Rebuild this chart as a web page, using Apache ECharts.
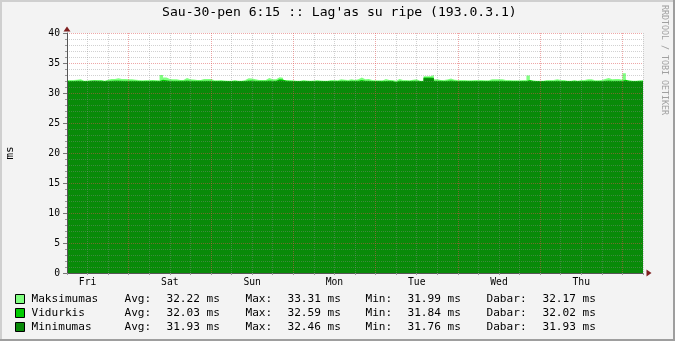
<!DOCTYPE html>
<html><head><meta charset="utf-8">
<script src="https://cdn.jsdelivr.net/npm/echarts@6/dist/echarts.min.js"></script>
<style>html,body{margin:0;padding:0;background:#F3F3F3}#c{width:675px;height:341px}</style>
</head><body><div id="c"></div>
<script>
const titleText = "Sau-30-pen 6:15 :: Lag'as su ripe (193.0.3.1)";
const unitName = 'ms';
const watermark = 'RRDTOOL / TOBI OETIKER';
// hours from start (Fri ~06:00) ; day labels at noon
const dayLabels = ['Fri', 'Sat', 'Sun', 'Mon', 'Tue', 'Wed', 'Thu'];
const seriesNames = ['Maksimumas', 'Vidurkis', 'Minimumas'];

// hourly samples h0..h168
const maxVals = [
  32.17,32.17,32.2,32.28,32.06,32.1,32.11,32.12,32.17,32.17,32.06,32.2,32.33,32.33,32.45,32.33,32.33,32.3,32.28,32.2,32.17,32.11,32.15,32.17,
  32.17,32.17,32.11,33.0,32.6,32.33,32.3,32.28,32.17,32.17,32.5,32.28,32.25,32.17,32.17,32.33,32.33,32.33,32.11,32.11,32.17,32.1,32.06,32.06,
  32.17,32.06,32.06,32.17,32.45,32.4,32.28,32.17,32.17,32.17,32.5,32.28,32.28,32.61,32.55,32.17,32.17,32.11,32.06,32.06,32.17,32.1,32.06,32.1,
  32.17,32.1,32.06,32.06,32.17,32.17,32.11,32.28,32.2,32.17,32.28,32.17,32.3,32.6,32.28,32.33,32.17,32.11,32.11,32.06,32.33,32.17,32.17,32.06,
  32.33,32.17,32.17,32.11,32.2,32.28,32.06,32.06,32.78,32.8,33.0,32.28,32.17,32.17,32.25,32.4,32.2,32.17,32.17,32.17,32.11,32.11,32.15,32.17,
  32.17,32.11,32.11,32.28,32.28,32.28,32.28,32.17,32.17,32.11,32.11,32.11,32.17,32.17,32.9,32.11,32.06,32.06,32.06,32.17,32.17,32.17,32.28,32.17,
  32.17,32.06,32.06,32.17,32.06,32.17,32.17,32.28,32.28,32.11,32.11,32.17,32.33,32.5,32.28,32.33,32.33,32.2,33.31,32.17,32.06,32.06,32.11,32.17,32.17
];
const avgVals = [
  32.02,32.02,32.04,32.06,32.0,32.01,32.03,32.1,32.04,32.03,32.0,32.03,32.06,32.07,32.1,32.06,32.05,32.04,32.04,32.03,32.02,32.01,32.02,32.02,
  32.03,32.02,32.0,32.2,32.12,32.06,32.05,32.05,32.03,32.03,32.08,32.05,32.04,32.03,32.03,32.05,32.05,32.05,32.01,32.0,32.02,32.01,32.0,32.0,
  32.02,32.0,32.0,32.02,32.08,32.07,32.05,32.03,32.03,32.03,32.08,32.05,32.05,32.3,32.25,32.03,32.02,32.01,31.99,31.99,32.02,32.0,31.99,32.0,
  32.02,32.0,31.99,31.99,32.02,32.02,32.01,32.05,32.03,32.02,32.05,32.03,32.04,32.15,32.05,32.06,32.02,32.01,32.01,32.04,32.0,32.03,32.02,31.84,
  32.05,32.02,32.02,32.01,32.03,32.05,31.99,31.99,32.59,32.57,32.55,32.05,32.03,32.02,32.04,32.08,32.03,32.02,32.02,32.02,32.01,32.01,32.02,32.02,
  32.02,32.01,32.01,32.05,32.05,32.05,32.05,32.02,32.02,32.01,32.01,32.01,32.02,32.02,32.15,32.01,31.99,31.99,31.99,32.02,32.02,32.02,32.05,32.02,
  32.02,31.99,31.99,32.02,31.99,32.02,32.02,32.05,32.05,32.01,32.01,32.02,32.06,32.1,32.05,32.06,32.06,32.03,32.2,32.02,31.99,31.99,32.01,32.02,32.02
];
const minVals = [
  31.93,31.92,31.94,31.93,31.91,31.92,31.95,32.02,31.96,31.93,31.92,31.93,31.94,31.95,31.96,31.94,31.93,31.92,31.93,31.92,31.91,31.92,31.93,31.92,
  31.93,31.92,31.91,31.98,31.95,31.94,31.93,31.93,31.92,31.92,31.94,31.93,31.92,31.92,31.93,31.93,31.94,31.93,31.92,31.91,31.92,31.92,31.9,31.91,
  31.92,31.91,31.9,31.92,31.95,31.94,31.93,31.92,31.92,31.92,31.94,31.93,31.94,32.1,32.05,31.93,31.92,31.91,31.9,31.9,31.92,31.91,31.9,31.91,
  31.92,31.91,31.9,31.9,31.92,31.92,31.91,31.93,31.93,31.92,31.94,31.93,31.93,31.96,31.94,31.94,31.92,31.91,31.91,31.82,31.9,31.92,31.91,31.76,
  31.93,31.92,31.92,31.91,31.92,31.93,31.9,31.9,32.44,32.46,32.45,31.95,31.93,31.92,31.93,31.95,31.93,31.92,31.92,31.92,31.91,31.91,31.92,31.92,
  31.92,31.91,31.91,31.93,31.93,31.93,31.93,31.92,31.92,31.91,31.91,31.91,31.92,31.92,31.98,31.91,31.9,31.9,31.9,31.92,31.92,31.92,31.93,31.92,
  31.92,31.9,31.9,31.92,31.9,31.92,31.92,31.93,31.93,31.91,31.91,31.92,31.94,31.95,31.93,31.94,31.94,31.92,32.0,31.92,31.9,31.9,31.91,31.93,31.93
];

// legend statistics
const statAvg = [32.22, 32.03, 31.93];
const statMax = [33.31, 32.59, 32.46];
const statMin = [31.99, 31.84, 31.76];
const statCur = [32.17, 32.02, 31.93];

const colors = ['#80FF80', '#00CC00', '#098A09'];
const mono = '"DejaVu Sans Mono", monospace';
const minorC = 'rgba(140,140,140,0.4)';
const majorC = 'rgba(222,79,79,0.5)';
const seriesData = [maxVals, avgVals, minVals];

const chart = echarts.init(document.getElementById('c'), null, {renderer: 'canvas'});

const fmt = v => v.toFixed(2) + ' ms';

const option = {
  backgroundColor: '#F3F3F3',
  animation: false,
  title: {
    text: titleText, left: 162, top: 6, padding: 0,
    textStyle: {fontFamily: mono, fontSize: 13.1, fontWeight: 'normal', color: '#000'}
  },
  grid: {left: 67, right: 32, top: 33, bottom: 68, show: true, backgroundColor: '#FFFFFF', borderWidth: 0,
         containLabel: false, outerBoundsMode: 'none'},
  xAxis: [
    {
      type: 'value', min: 0, max: 168, interval: 6, z: 5, position: 'bottom',
      axisLine: {show: true, onZero: false, lineStyle: {color: '#555', width: 1}},
      axisTick: {show: true, length: 2, lineStyle: {color: '#999'}},
      axisLabel: {
        show: true, margin: 4, fontFamily: mono, fontSize: 9.7, color: '#000',
        formatter: v => ((v - 6) % 24 === 0 ? dayLabels[(v - 6) / 24] : '')
      },
      splitLine: {show: true, lineStyle: {color: [minorC, minorC, minorC, majorC], type: [1, 1], width: 1}}
    },
    {
      type: 'value', min: 0, max: 168, z: 6, position: 'bottom',
      axisLine: {show: true, onZero: false, symbol: ['none', 'triangle'], symbolSize: [7, 5], symbolOffset: [0, 6],
                 lineStyle: {color: '#7F1F1F', width: 0}},
      axisTick: {show: false}, axisLabel: {show: false}, splitLine: {show: false}
    }
  ],
  yAxis: [
    {
      type: 'value', min: 0, max: 40, interval: 1, z: 5, position: 'left',
      axisLine: {show: true, onZero: false, lineStyle: {color: '#555', width: 1}},
      axisTick: {show: true, length: 2, lineStyle: {color: '#999'}},
      axisLabel: {show: false},
      splitLine: {show: true, lineStyle: {color: [majorC, minorC, minorC, minorC, minorC], type: [1, 1], width: 1}},
      name: unitName, nameLocation: 'middle', nameRotate: 90, nameGap: 51,
      nameTextStyle: {fontFamily: mono, fontSize: 11, color: '#000'}
    },
    {
      type: 'value', min: 0, max: 40, interval: 5, z: 5, position: 'left',
      axisLine: {show: false},
      axisTick: {show: true, length: 4, lineStyle: {color: '#777'}},
      axisLabel: {show: true, margin: 7, fontFamily: mono, fontSize: 9.7, color: '#000'},
      splitLine: {show: false}
    },
    {
      type: 'value', min: 0, max: 40, z: 6, position: 'left',
      axisLine: {show: true, onZero: false, symbol: ['none', 'triangle'], symbolSize: [7, 5], symbolOffset: [0, 4],
                 lineStyle: {color: '#7F1F1F', width: 0}},
      axisTick: {show: false}, axisLabel: {show: false}, splitLine: {show: false}
    }
  ],
  legend: {
    orient: 'vertical', left: 15, top: 292, padding: 0, itemWidth: 9, itemHeight: 9, itemGap: 0,
    height: 48, icon: 'rect', selectedMode: false, data: seriesNames,
    itemStyle: {borderColor: '#000', borderWidth: 1},
    textStyle: {
      fontFamily: mono, fontSize: 11.1, color: '#000', lineHeight: 14,
      rich: {
        n: {fontFamily: mono, fontSize: 11.1, width: 93, padding: [0, 0, 0, 2]},
        a: {fontFamily: mono, fontSize: 11.1, width: 42},
        v: {fontFamily: mono, fontSize: 11.1, width: 79},
        w: {fontFamily: mono, fontSize: 11.1, width: 78},
        d: {fontFamily: mono, fontSize: 11.1, width: 56},
        e: {fontFamily: mono, fontSize: 11.1}
      }
    },
    formatter: name => {
      const i = seriesNames.indexOf(name);
      return '{n|' + name + '}{a|Avg:}{v|' + fmt(statAvg[i]) + '}{a|Max:}{w|' + fmt(statMax[i]) +
             '}{a|Min:}{v|' + fmt(statMin[i]) + '}{d|Dabar:}{e|' + fmt(statCur[i]) + '}';
    }
  },
  series: seriesNames.map((name, i) => ({
    name: name, type: 'line', step: 'end', xAxisIndex: 0, yAxisIndex: 0,
    data: seriesData[i].map((v, k) => [k, v]),
    symbol: 'none', silent: true, z: 2,
    lineStyle: {width: 0, color: colors[i]},
    itemStyle: {color: colors[i]},
    areaStyle: {color: colors[i], opacity: 1},
    emphasis: {disabled: true}
  })),
  graphic: [
    {type: 'rect', silent: true, shape: {x: 0, y: 0, width: 675, height: 2}, style: {fill: '#CFCFCF'}},
    {type: 'rect', silent: true, shape: {x: 0, y: 0, width: 2, height: 341}, style: {fill: '#CFCFCF'}},
    {type: 'rect', silent: true, shape: {x: 673, y: 0, width: 2, height: 341}, style: {fill: '#9E9E9E'}},
    {type: 'rect', silent: true, shape: {x: 0, y: 339, width: 675, height: 2}, style: {fill: '#9E9E9E'}},
    {type: 'text', silent: true, x: 664, y: 60, rotation: -Math.PI / 2,
     style: {text: watermark, fill: '#A0A0A0', font: '8.3px "DejaVu Sans Mono"', align: 'center', verticalAlign: 'middle'}}
  ]
};
chart.setOption(option);
</script>
</body></html>
